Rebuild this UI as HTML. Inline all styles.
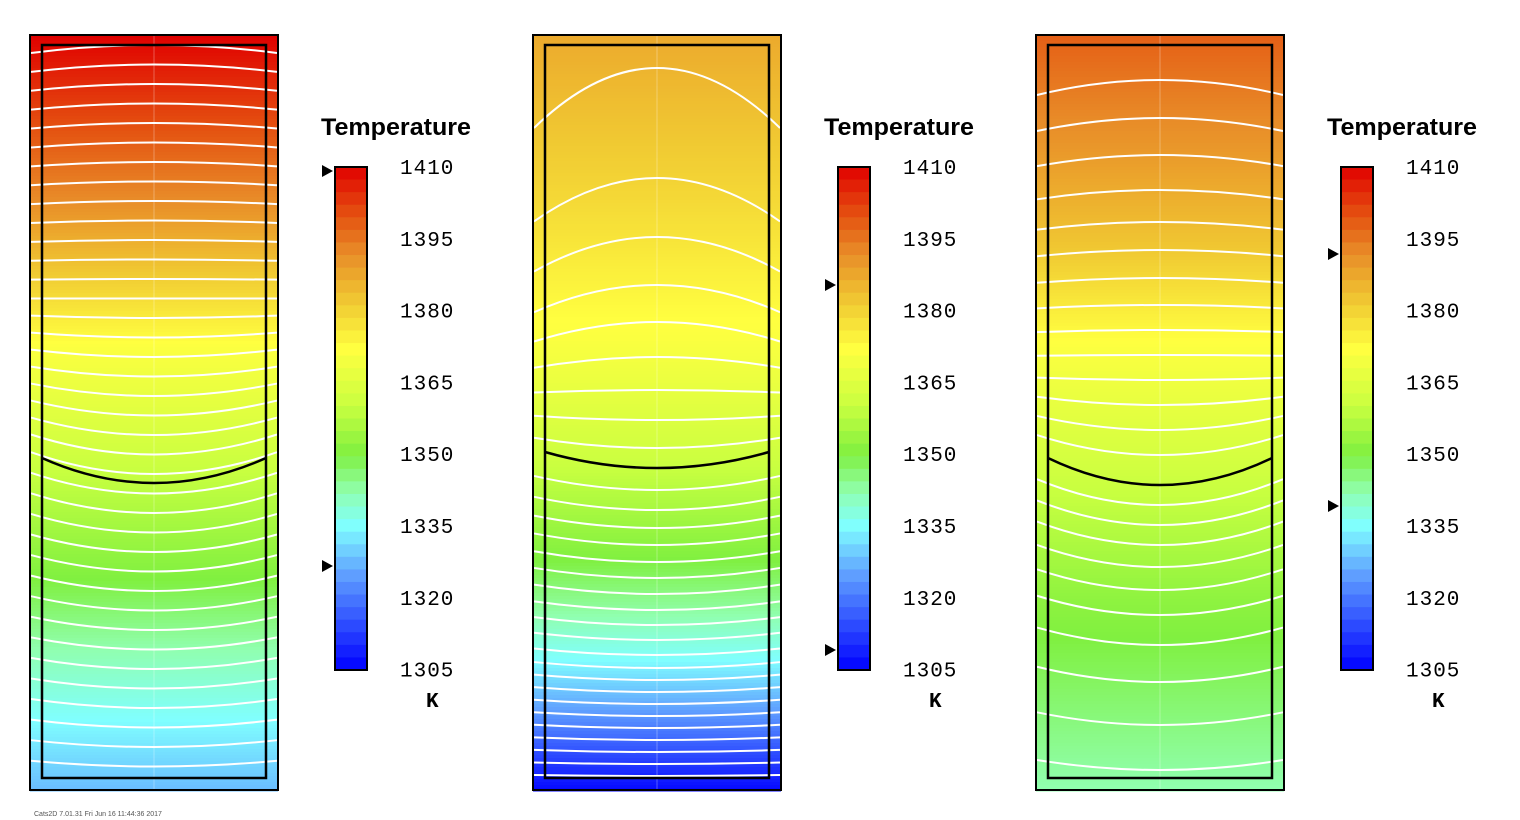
<!DOCTYPE html>
<html><head><meta charset="utf-8"><style>
body{margin:0;background:#fff;width:1520px;height:820px;overflow:hidden}
svg{display:block}
</style></head><body>
<svg id="s" width="1520" height="820" xmlns="http://www.w3.org/2000/svg" font-family="Liberation Sans, sans-serif"></svg>
<script>
const S=document.getElementById('s');
const stops=[[1410,[224,0,0]],[1400,[228,80,16]],[1392,[232,140,40]],[1382,[240,200,50]],[1372,[255,255,64]],[1360,[200,255,64]],[1350,[128,240,64]],[1342,[144,255,176]],[1335,[128,255,255]],[1325,[96,160,255]],[1305,[0,0,255]]];
function col(t){if(t>=1410)return 'rgb(224,0,0)';if(t<=1305)return 'rgb(0,0,255)';
for(let i=0;i<stops.length-1;i++){const a=stops[i],b=stops[i+1];if(t<=a[0]&&t>=b[0]){const f=(a[0]-t)/(a[0]-b[0]);const c=a[1].map((v,k)=>Math.round(v+(b[1][k]-v)*f));return `rgb(${c})`;}}}
function interp(tab,y){for(let i=0;i<tab.length-1;i++){const a=tab[i],b=tab[i+1];if(y>=a[0]&&y<=b[0])return a[1]+(b[1]-a[1])*(y-a[0])/(b[0]-a[0]);}return y<tab[0][0]?tab[0][1]:tab[tab.length-1][1];}
let h='';
const panels=[
{x:30,tt:[[35,1410],[200,1392],[350,1371],[450,1362],[580,1350],[650,1342],[720,1335],[790,1328]],bk:-25,
 lines:(()=>{let a=[];for(let y=45;y<785;y+=19.5)a.push(y);return a})(),
 bul:y=>y<300?8*(300-y)/255:(y<470?-22*(y-300)/170:-22+17*(y-470)/310),
 m:[171,566]},
{x:533,tt:[[35,1387],[200,1379],[340,1371],[460,1361],[560,1350],[610,1343],[660,1335],[710,1325],[790,1306]],bk:-16,
 lines:[68,178,237,285,322,357,390,420,448,490,510,528,545,562,578,594,610,625,640,655,668,680,692,704,716,728,740,752,764,776],
 bul:y=>y<300?60-35*(y-68)/232:(y<400?25-25*(y-300)/100:(y<470?-15*(y-400)/70:-15+14*(y-470)/306)),
 m:[285,650]},
{x:1036,tt:[[35,1398],[150,1390],[250,1382],[350,1371],[480,1361],[600,1352],[790,1342]],bk:-27,
 lines:[80,118,155,190,222,250,278,305,330,355,380,405,430,455,505,525,545,567,590,615,645,682,725,770],
 bul:y=>y<370?15*(370-y)/290:(y<485?-27*(y-370)/115:-27+17*(y-485)/285),
 m:[254,506]}];
panels.forEach(p=>{
 const x0=p.x,x1=p.x+248,y0=35,y1=790;
 for(let y=y0;y<y1;y+=3){const t=interp(p.tt,y+1.5);h+=`<rect x="${x0}" y="${y}" width="248" height="3.5" fill="${col(t)}"/>`;}
 h+=`<line x1="${x0+124}" y1="${y0}" x2="${x0+124}" y2="${y1}" stroke="#fff" stroke-opacity="0.3"/>`;
 p.lines.forEach(c=>{const b=p.bul(c);const e=c+b;h+=`<path d="M${x0+1} ${e} Q${x0+124} ${c-b} ${x1-1} ${e}" fill="none" stroke="#fff" stroke-width="2"/>`;});
 const be=p.x===533?452:458,bc=be-p.bk;
 h+=`<path d="M${x0+12} ${be} Q${x0+124} ${bc-p.bk} ${x1-12} ${be}" fill="none" stroke="#000" stroke-width="2.5"/>`;
 h+=`<rect x="${x0+12}" y="45" width="224" height="733" fill="none" stroke="#000" stroke-width="2.5"/>`;
 h+=`<rect x="${x0}" y="${y0}" width="248" height="755" fill="none" stroke="#000" stroke-width="2"/>`;
 const cx=x0+305;
 for(let i=0;i<40;i++){const t=1410-(i+0.5)*105/40;h+=`<rect x="${cx}" y="${167+i*503/40}" width="32" height="${503/40+0.6}" fill="${col(t)}"/>`;}
 h+=`<rect x="${cx}" y="167" width="32" height="503" fill="none" stroke="#000" stroke-width="2"/>`;
 h+=`<text x="${x0+291}" y="135" font-size="24" font-weight="bold" textLength="150" lengthAdjust="spacingAndGlyphs">Temperature</text>`;
 [1410,1395,1380,1365,1350,1335,1320,1305].forEach((v,i)=>{h+=`<text x="${x0+370}" y="${174+i*71.8}" font-family="Liberation Mono, monospace" font-size="21" letter-spacing="1">${v}</text>`;});
 h+=`<text x="${x0+396}" y="707" font-family="Liberation Mono, monospace" font-size="21" font-weight="bold">K</text>`;
 p.m.forEach(y=>{h+=`<polygon points="${cx-13},${y-6} ${cx-2},${y} ${cx-13},${y+6}" fill="#000"/>`;});
});
h+=`<text x="34" y="816" font-size="7" fill="#555">Cats2D 7.01.31 Fri Jun 16 11:44:36 2017</text>`;
S.innerHTML=h;
</script>
</body></html>
